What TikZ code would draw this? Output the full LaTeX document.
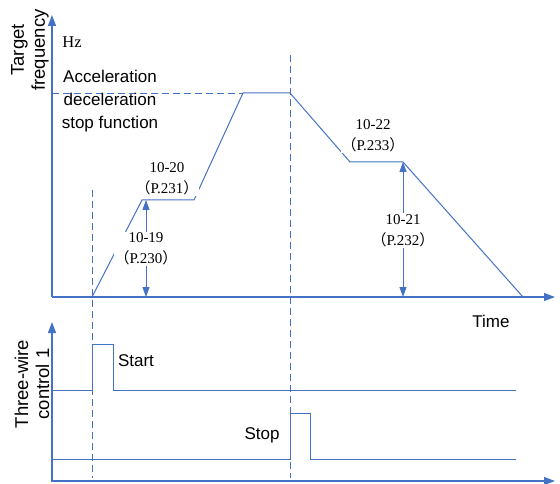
\documentclass[tikz,border=0pt]{standalone}
\usepackage{fontspec}
\setmainfont{Liberation Serif}
\setsansfont{Liberation Sans}
\newfontfamily\cjkfont{Noto Sans CJK SC}
\usetikzlibrary{arrows.meta}
\definecolor{lineblue}{HTML}{4472C4}
\newcommand{\fwl}{{\cjkfont （}}
\newcommand{\fwr}{{\cjkfont ）}}
\begin{document}
\begin{tikzpicture}[x=1pt,y=-1pt,
 sig/.style={lineblue, line width=1pt},
 axisarrow/.style={lineblue, line width=1.2pt, -{Triangle[length=11pt,width=8pt]}},
 dimarrow/.style={lineblue, line width=1pt, {Triangle[length=10pt,width=7pt]}-{Triangle[length=10pt,width=7pt]}},
 guide/.style={lineblue, line width=0.9pt, dash pattern=on 7pt off 4pt},
 sflabel/.style={font=\sffamily\fontsize{17}{23}\selectfont, inner sep=1pt, align=center},
 axlabel/.style={font=\sffamily\fontsize{18.5}{21}\selectfont, rotate=90, align=center, inner sep=0pt},
 parlabel/.style={font=\fontsize{15}{21}\selectfont, align=center, fill=white, inner sep=1pt},
]
\useasboundingbox (0,0) rectangle (560,484);
% ---- coordinates, top plot
\coordinate (o1) at (52,297);
\coordinate (ytop) at (52,15);
\coordinate (xend1) at (555,297);
\coordinate (tgt) at (52,93);
\coordinate (p0) at (92,297);
\coordinate (p1) at (142,200);
\coordinate (p2) at (194,200);
\coordinate (p3) at (243,93);
\coordinate (p4) at (290,93);
\coordinate (p5) at (350,162);
\coordinate (p6) at (403,162);
\coordinate (p7) at (523,297);
\coordinate (g1a) at (92,190);
\coordinate (g1b) at (92,478);
\coordinate (g2a) at (290,55);
\coordinate (g2b) at (290,478);
\coordinate (d1a) at (146,200);
\coordinate (d1b) at (146,297);
\coordinate (d2a) at (403,162);
\coordinate (d2b) at (403,297);
% ---- coordinates, bottom plot
\coordinate (o2) at (52,482);
\coordinate (ytop2) at (52,322);
\coordinate (o2x) at (52,481);
\coordinate (xend2) at (555,481);
\coordinate (s0) at (52,390);
\coordinate (s1) at (92,390);
\coordinate (s2) at (92,344);
\coordinate (s3) at (113,344);
\coordinate (s4) at (113,390);
\coordinate (s5) at (516,390);
\coordinate (t0) at (52,459);
\coordinate (t1) at (290,459);
\coordinate (t2) at (290,413);
\coordinate (t3) at (310,413);
\coordinate (t4) at (310,459);
\coordinate (t5) at (516,459);
% ---- axes
\draw[axisarrow] (o1) -- (ytop);
\draw[axisarrow] (o1) -- (xend1);
\draw[axisarrow] (o2) -- (ytop2);
\draw[axisarrow] (o2x) -- (xend2);
% ---- guides
\draw[guide] (tgt) -- (p3);
\draw[guide] (g1a) -- (g1b);
\draw[guide] (g2a) -- (g2b);
% ---- frequency profile
\draw[sig] (p0) -- (p1) -- (p2) -- (p3) -- (p4) -- (p5) -- (p6) -- (p7);
% ---- dimension arrows
\draw[dimarrow] (d1a) -- (d1b);
\draw[dimarrow] (d2a) -- (d2b);
% ---- signals
\draw[sig] (s0) -- (s1) -- (s2) -- (s3) -- (s4) -- (s5);
\draw[sig] (t0) -- (t1) -- (t2) -- (t3) -- (t4) -- (t5);
% ---- labels
\node[axlabel] (yl1) at (30,50) {Target\\frequency};
\node[axlabel] (yl2) at (32,384) {Three-wire\\control 1};
\node[font=\fontsize{16.5}{18}\selectfont, inner sep=0pt] (hz) at (72,42) {Hz};
\node[sflabel] (acc) at (110,101) {Acceleration\\deceleration\\stop function};
\node[parlabel] (l19) at (146,249) {10-19\\\fwl P.230\fwr};
\node[parlabel] (l20) at (167,179) {10-20\\\fwl P.231\fwr};
\node[parlabel] (l22) at (373,135.5) {10-22\\\fwl P.233\fwr};
\node[parlabel] (l21) at (403,230.5) {10-21\\\fwl P.232\fwr};
\node[sflabel] (time) at (491,321) {Time};
\node[sflabel] (start) at (136,361) {Start};
\node[sflabel] (stop) at (262,435) {Stop};
\end{tikzpicture}
\end{document}
